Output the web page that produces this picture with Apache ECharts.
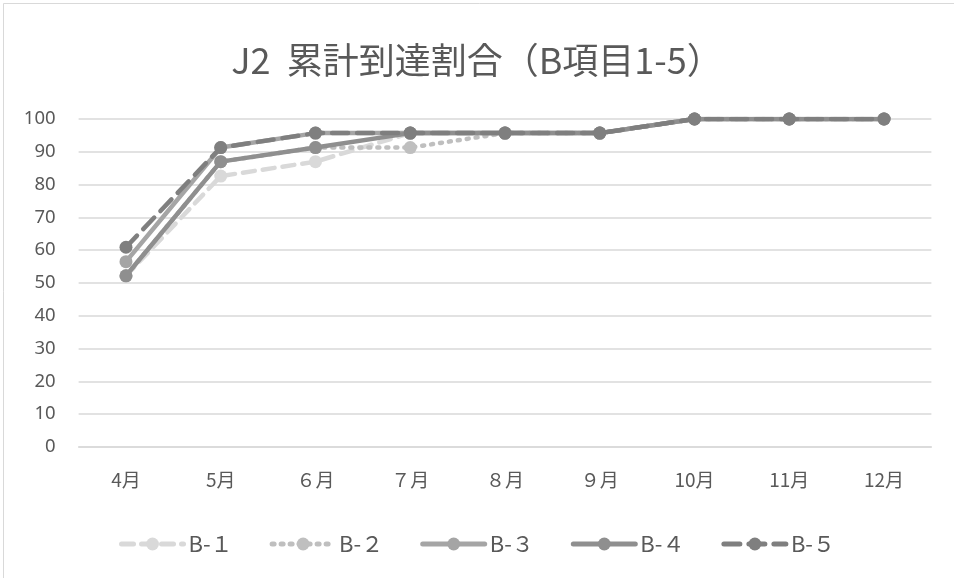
<!DOCTYPE html>
<html><head><meta charset="utf-8">
<script src="https://cdn.jsdelivr.net/npm/echarts@6/dist/echarts.min.js"></script>
<style>html,body{margin:0;padding:0;background:#fff}#c{width:954px;height:578px}</style>
</head><body><div id="c"></div>
<script>
const titleText = 'J2  累計到達割合（B項目1-5）';
const months = ['4月','5月','６月','７月','８月','９月','10月','11月','12月'];
const seriesNames = ['B-１','B-２','B-３','B-４','B-５'];
const b1 = [52.2, 82.6, 87.0, 95.7, 95.7, 95.7, 100, 100, 100];
const b2 = [52.2, 87.0, 91.3, 91.3, 95.7, 95.7, 100, 100, 100];
const b3 = [56.5, 91.3, 95.7, 95.7, 95.7, 95.7, 100, 100, 100];
const b4 = [52.2, 87.0, 91.3, 95.7, 95.7, 95.7, 100, 100, 100];
const b5 = [60.9, 91.3, 95.7, 95.7, 95.7, 95.7, 100, 100, 100];
const yTicks = [0, 10, 20, 30, 40, 50, 60, 70, 80, 90, 100];

const colors = ['#d9d9d9', '#bfbfbf', '#a5a5a5', '#8f8f8f', '#7f7f7f'];
const dashes = [[12, 8], [2, 7], 'solid', 'solid', [16, 9]];
const allData = [b1, b2, b3, b4, b5];

const chart = echarts.init(document.getElementById('c'));
const font = '"Noto Sans CJK JP", "Noto Sans", sans-serif';
const latin = '"Noto Sans", "Noto Sans CJK JP", sans-serif';
chart.setOption({
  animation: false,
  backgroundColor: '#fff',
  title: {
    text: titleText, left: 'center', top: 37,
    textStyle: { fontFamily: font, fontSize: 36, fontWeight: 'normal', color: '#595959' }
  },
  graphic: [{ type: 'rect', shape: { x: 3.5, y: 3.5, width: 980, height: 620 },
    style: { fill: 'none', stroke: '#d9d9d9', lineWidth: 1 }, silent: true }],
  legend: {
    top: 528, left: 'center', itemWidth: 62, itemHeight: 16, itemGap: 37,
    data: seriesNames.map((n, i) => ({ name: n, lineStyle: { width: 5, type: dashes[i], color: colors[i], cap: 'round' } })),
    textStyle: { fontFamily: font, fontSize: 22, color: '#595959' }
  },
  grid: { left: 78.6, right: 22.6, top: 119, bottom: 131, containLabel: false },
  xAxis: {
    type: 'category', data: months, boundaryGap: true,
    axisLine: { show: true, lineStyle: { color: '#d9d9d9', width: 1.5 } },
    axisTick: { show: false },
    axisLabel: { fontFamily: font, fontSize: 19, color: '#595959', margin: 23 }
  },
  yAxis: {
    type: 'value', min: 0, max: 100, interval: 10,
    axisLine: { show: false }, axisTick: { show: false },
    splitLine: { lineStyle: { color: '#d9d9d9', width: 1.5 } },
    axisLabel: { fontFamily: latin, fontSize: 18.5, color: '#595959', margin: 23 }
  },
  series: seriesNames.map((n, i) => ({
    name: n, type: 'line', data: allData[i],
    symbol: 'circle', symbolSize: 13,
    itemStyle: { color: colors[i] },
    lineStyle: { color: colors[i], width: 4.5, type: dashes[i], cap: 'round' },
    z: 2 + i
  }))
});
</script></body></html>
